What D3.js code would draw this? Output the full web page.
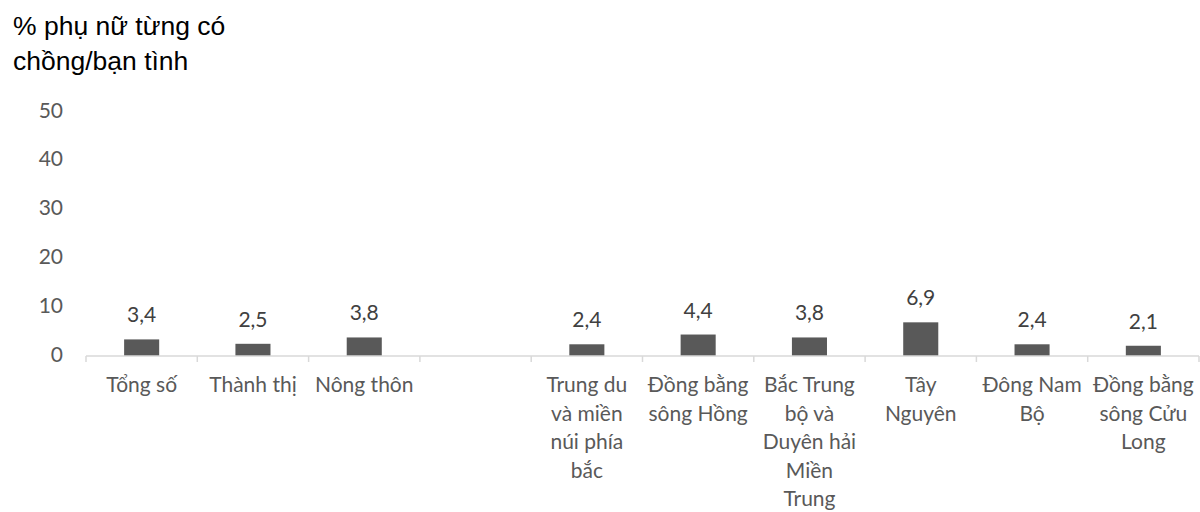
<!DOCTYPE html>
<html>
<head>
<meta charset="utf-8">
<script src="https://cdn.jsdelivr.net/npm/d3@7"></script>
<style>
  body { margin: 0; background: #fff; }
  svg { display: block; }
</style>
</head>
<body>
<script>
// labels use "\n" for the line breaks seen in the picture
var categories = ["Tổng số", "Thành thị", "Nông thôn", "",
  "Trung du\nvà miền\nnúi phía\nbắc", "Đồng bằng\nsông Hồng",
  "Bắc Trung\nbộ và\nDuyên hải\nMiền\nTrung", "Tây\nNguyên",
  "Đông Nam\nBộ", "Đồng bằng\nsông Cửu\nLong"];
var values = [3.4, 2.5, 3.8, null, 2.4, 4.4, 3.8, 6.9, 2.4, 2.1];
var yTicks = [0, 10, 20, 30, 40, 50];
var titleLines = ["% phụ nữ từng có", "chồng/bạn tình"];

var width = 1200, height = 512;
var bodyFont = "Lato, 'Open Sans', sans-serif";

var svg = d3.select("body").append("svg")
    .attr("width", width)
    .attr("height", height);

var x = d3.scaleBand()
    .domain(d3.range(categories.length))
    .range([86, 1199])
    .padding(0);

var y = d3.scaleLinear()
    .domain([0, 50])
    .range([356, 112]);

// title
svg.append("g").selectAll("text")
   .data(titleLines)
   .enter().append("text")
     .attr("x", 13)
     .attr("y", function (d, i) { return 35 + i * 35; })
     .attr("font-family", "'Liberation Sans', Arial, sans-serif")
     .attr("font-size", 26.5)
     .attr("fill", "#000")
     .text(function (d) { return d; });

// y labels (no axis line)
svg.append("g").selectAll("text")
   .data(yTicks)
   .enter().append("text")
     .attr("x", 63)
     .attr("y", function (d) { return y(d) + 5.5; })
     .attr("text-anchor", "end")
     .attr("font-family", bodyFont)
     .attr("font-size", 21)
     .attr("fill", "#595959")
     .text(function (d) { return d; });

// bars
var barW = x.bandwidth() * 0.315;
var data = values.map(function (v, i) { return { i: i, v: v }; })
                 .filter(function (d) { return d.v != null; });

svg.append("g").selectAll("rect")
   .data(data)
   .enter().append("rect")
     .attr("x", function (d) { return x(d.i) + (x.bandwidth() - barW) / 2; })
     .attr("y", function (d) { return y(d.v); })
     .attr("width", barW)
     .attr("height", function (d) { return y(0) - y(d.v); })
     .attr("fill", "#595959");

// value labels
svg.append("g").selectAll("text")
   .data(data)
   .enter().append("text")
     .attr("x", function (d) { return x(d.i) + x.bandwidth() / 2; })
     .attr("y", function (d) { return y(d.v) - 17; })
     .attr("text-anchor", "middle")
     .attr("font-family", bodyFont)
     .attr("font-size", 21)
     .attr("fill", "#404040")
     .text(function (d) { return d3.format(".1f")(d.v).replace(".", ","); });

// x axis line and ticks at category boundaries
var axis = svg.append("g").attr("stroke", "#d9d9d9").attr("stroke-width", 1.5);
axis.append("line")
    .attr("x1", x.range()[0]).attr("x2", x.range()[1])
    .attr("y1", y(0)).attr("y2", y(0));

var edges = d3.range(categories.length).map(function (i) { return x(i); })
              .concat([x.range()[1]]);
axis.selectAll(".tick")
    .data(edges)
    .enter().append("line")
      .attr("x1", function (d) { return d; }).attr("x2", function (d) { return d; })
      .attr("y1", y(0)).attr("y2", y(0) + 6);

// category labels
var cat = svg.append("g").selectAll("text")
   .data(categories)
   .enter().append("text")
     .attr("text-anchor", "middle")
     .attr("font-family", bodyFont)
     .attr("font-size", 21)
     .attr("fill", "#595959");

cat.selectAll("tspan")
   .data(function (d, i) {
       return d.split("\n").map(function (s) { return { s: s, i: i }; });
   })
   .enter().append("tspan")
     .attr("x", function (d) { return x(d.i) + x.bandwidth() / 2; })
     .attr("y", function (d, j) { return 392 + j * 28.5; })
     .text(function (d) { return d.s; });
</script>
</body>
</html>
